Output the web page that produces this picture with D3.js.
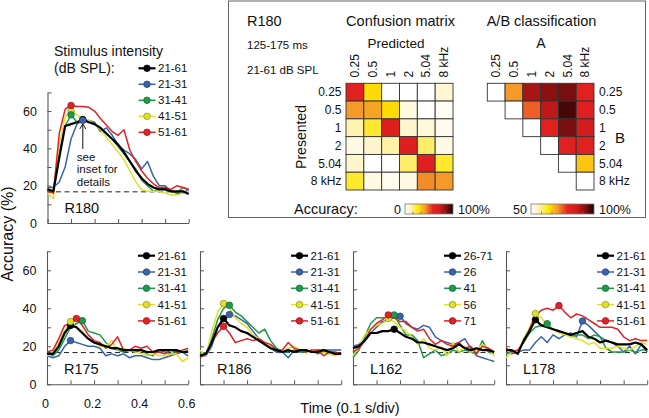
<!DOCTYPE html>
<html>
<head>
<meta charset="utf-8">
<script src="https://cdn.jsdelivr.net/npm/d3@7"></script>
<style>
  body { margin: 0; background: #fff; }
  svg { font-family: Arial, "Liberation Sans", sans-serif; }
</style>
</head>
<body>
<svg id="viz" width="649" height="418"></svg>
<script>
// sample times (s)
const times = [0, 0.025, 0.05, 0.075, 0.1, 0.125, 0.15, 0.175, 0.2, 0.225, 0.25, 0.275, 0.3,
               0.325, 0.35, 0.375, 0.4, 0.425, 0.45, 0.475, 0.5, 0.525, 0.55, 0.575, 0.6];
const xTicks = [0, 0.1, 0.2, 0.3, 0.4, 0.5, 0.6];
const yTicks = [0, 10, 20, 30, 40, 50, 60, 70];
const chance = 16.7;

const legendStd = ["21-61", "21-31", "31-41", "41-51", "51-61"];
const legendL162 = ["26-71", "26", "41", "56", "71"];
const seriesColors = ["#000000", "#3b62ac", "#1f9a4c", "#e0e02a", "#e02329"];

// accuracy (%) per series: [all, level1, level2, level3, level4]
const r180 = [
  [18, 17, 35, 52, 53, 54, 55.5, 54, 53, 51, 48, 45, 42, 38, 33, 28, 24, 21, 19, 18, 18, 17, 17, 17, 15.5],
  [19, 19, 22, 30, 45, 53, 55, 55, 54, 49, 51, 47, 42, 39, 37, 34, 29, 33, 25, 20, 20, 17, 16, 16, 18],
  [18, 17, 38, 52, 58, 54, 54, 55, 53, 51, 48, 45, 41, 37, 33, 29, 23, 20, 17, 18, 19, 17, 16, 19, 18],
  [16, 13, 42, 57, 60, 58, 56, 55, 53, 50, 46, 42, 38, 34, 28, 22, 18, 17, 17, 17, 16, 15, 15, 16, 17],
  [17, 16, 48, 61, 63, 62.5, 62.5, 62, 60, 56, 52.5, 49, 47, 50, 39, 33, 28, 24, 21, 19, 19, 18, 20, 19, 18]
];
const r175 = [
  [16, 16, 20, 27, 31, 30, 27, 24, 22, 21, 20, 19, 19, 18, 18, 18, 18, 17, 17, 18, 18, 18, 18, 17, 17],
  [15, 14, 15, 20, 23, 22, 21, 20, 20, 19, 15, 16, 15, 16, 14, 15, 15, 14, 13, 13, 14, 15, 16, 17, 15],
  [17, 15, 18, 24, 30, 32, 33.5, 28, 27, 26, 22, 19, 18, 17, 18, 17, 18, 16, 15, 18, 17, 16, 17, 17, 18],
  [15, 17, 22, 28, 33, 30, 28, 24, 22, 20, 20, 23, 18, 19, 18, 17, 16, 15, 16, 15, 15, 16, 16, 12, 14],
  [17, 18, 24, 31, 32, 34.6, 31, 26, 23, 22, 19, 21, 25, 18, 18, 20, 19, 20, 17, 17, 16, 18, 17, 18, 19]
];
const r186 = [
  [15, 16, 22, 30, 34.6, 31, 30, 28, 27, 25, 23, 21, 19, 18, 17, 18, 17, 18, 18, 17, 17, 18, 17, 16, 16],
  [15, 15, 20, 30, 34, 36.7, 36, 34, 32, 28, 24, 21, 19, 17, 17, 14, 18, 17, 18, 17, 18, 18, 18, 18, 18],
  [17, 16, 24, 34, 40, 41.6, 38, 36, 33, 30, 27, 29, 23, 19, 17, 17, 18, 17, 17, 18, 16, 17, 17, 16, 16],
  [18, 15, 28, 38, 42.5, 40, 35, 32, 30, 26, 24, 22, 20, 18, 17, 19, 20, 18, 17, 18, 17, 17, 16, 15, 16],
  [14, 16, 22, 27, 30.5, 27, 22, 23, 24, 23, 24, 22, 21, 18, 18, 22, 19, 18, 17, 18, 18, 15, 17, 17, 16]
];
const l162 = [
  [19, 20, 23, 27, 27, 28, 28, 29, 27, 25, 24, 22, 22, 21, 20, 19, 18, 19, 21, 19, 18, 19, 18, 18, 17],
  [20, 21, 24, 27, 30, 33, 34, 35, 35.8, 32, 30, 29, 31, 30, 25, 23, 22, 21, 22, 24, 19, 15, 14, 13, 12],
  [14, 18, 25, 32, 35, 35, 35, 36.5, 31, 26, 26, 23, 14, 16, 18, 15, 16, 18, 17, 18, 17, 16, 23, 17, 16],
  [15, 20, 26, 29, 31, 32, 34.6, 33, 30, 28, 25, 21, 24, 19, 18, 20, 15, 22, 17, 20, 17, 18, 21, 19, 15],
  [17, 19, 23, 29, 32, 34, 36.5, 35, 33, 33, 30, 28, 29, 24, 21, 23, 21, 20, 22, 19, 20, 16, 20, 19, 17]
];
const l178 = [
  [18, 18, 16, 23, 28, 34, 31, 30, 29, 28, 27, 26, 27, 28, 25, 24, 22, 23, 22, 21, 21, 21, 22, 21, 18],
  [17, 16, 17, 18, 18, 22, 25, 22, 26, 24, 26, 27, 25, 33.3, 31, 28, 25, 23, 22, 20, 17, 20, 16, 21, 17],
  [16, 17, 18, 22, 27, 30, 31, 31.9, 29, 28, 27, 25, 26, 26, 24, 26, 25, 19, 17, 17, 17, 18, 17, 18, 18],
  [14, 17, 17, 24, 30, 37.2, 35, 31, 29, 27, 26, 25, 24, 23, 21, 22, 19, 19, 19, 20, 19, 18, 20, 22, 21],
  [19, 17, 18, 22, 29, 36, 39, 40, 39, 41.4, 38, 35, 37, 36, 34, 32, 30, 30, 30, 29, 25, 23, 24, 23, 23]
];

// inset: confusion matrix (%) rows = presented, cols = predicted
const freqLabels = ["0.25", "0.5", "1", "2", "5.04", "8 kHz"];
const confusion = [
  [62, 30, 0, 0, 0, 8],
  [42, 40, 30, 6, 0, 2],
  [13, 24, 64, 9, 7, 3],
  [5, 9, 14, 64, 19, 5],
  [9, 0, 0, 19, 63, 24],
  [24, 5, 3, 5, 44, 42]
];
// A/B classification accuracy (%), upper triangle only
const abClass = [
  [null, 71, 90, 92.5, 94, 81],
  [null, null, 75, 88, 97, 81.5],
  [null, null, null, 81, 94, 86],
  [null, null, null, null, 81, 81],
  [null, null, null, null, null, 67],
  [null, null, null, null, null, null]
];

const svg = d3.select("#viz");

const cmap = d3.scaleLinear()
  .domain([0, 12, 28, 42, 58, 72, 88, 100])
  .range(["#ffffff", "#fff3bd", "#ffe600", "#f59a28", "#e62222", "#d41c1c", "#7a0e0e", "#140000"])
  .clamp(true);

const panels = [
  {name: "R180", data: r180, legend: legendStd, x0: 47.5, yb: 223, h: 130.6, yLab: true, xLab: false, legY: 68.3, step: 16},
  {name: "R175", data: r175, legend: legendStd, x0: 47, yb: 384.3, h: 133, yLab: true, xLab: true, legY: 255.7, step: 16.3},
  {name: "R186", data: r186, legend: legendStd, x0: 200, yb: 384.3, h: 133, yLab: false, xLab: false, legY: 255.7, step: 16.3},
  {name: "L162", data: l162, legend: legendL162, x0: 353, yb: 384.3, h: 133, yLab: false, xLab: false, legY: 255.7, step: 16.3},
  {name: "L178", data: l178, legend: legendStd, x0: 506, yb: 384.3, h: 133, yLab: false, xLab: false, legY: 255.7, step: 16.3}
];

const lineOrder = [1, 2, 3, 4, 0];
const markerOrder = [0, 1, 3, 2, 4];

function drawPanel(p) {
  const x = d3.scaleLinear().domain([0, 0.6]).range([p.x0, p.x0 + 141.2]);
  const y = d3.scaleLinear().domain([0, 70]).range([p.yb, p.yb - p.h]);
  const g = svg.append("g");

  g.append("line")
    .attr("x1", x(0)).attr("x2", x(0.6))
    .attr("y1", y(chance)).attr("y2", y(chance))
    .attr("stroke", "#222").attr("stroke-width", 1)
    .attr("stroke-dasharray", "5,3.5");

  const ya = g.append("g").attr("transform", `translate(${p.x0},0)`)
    .call(d3.axisLeft(y).tickValues(yTicks).tickSize(-4).tickSizeOuter(0).tickPadding(10.5)
      .tickFormat(d => p.yLab && d % 20 === 0 ? d : ""));
  const xa = g.append("g").attr("transform", `translate(0,${p.yb})`)
    .call(d3.axisBottom(x).tickValues(xTicks).tickSize(-4).tickSizeOuter(0).tickPadding(15)
      .tickFormat(d => p.xLab && Math.round(d * 10) % 2 === 0 ? (d === 0 ? "0" : d.toFixed(1)) : ""));
  [ya, xa].forEach(a => {
    a.attr("color", "#555");
    a.select(".domain").attr("stroke-width", 1.1);
    a.selectAll("text").attr("fill", "#111").style("font-size", "12.5px").attr("font-family", null);
  });
  xa.selectAll("text").attr("dx", -2);

  const line = d3.line().x((d, i) => x(times[i])).y(d => y(d));
  lineOrder.forEach(s => {
    g.append("path").datum(p.data[s])
      .attr("d", line)
      .attr("fill", "none")
      .attr("stroke", seriesColors[s])
      .attr("stroke-width", s === 0 ? 2.2 : 1.5)
      .attr("stroke-linejoin", "round");
  });
  markerOrder.forEach(s => {
    const k = d3.maxIndex(p.data[s]);
    g.append("circle")
      .attr("cx", x(times[k])).attr("cy", y(p.data[s][k])).attr("r", 3.3)
      .attr("fill", seriesColors[s])
      .attr("stroke", d3.color(seriesColors[s]).darker(1.2))
      .attr("stroke-width", 0.7);
  });

  g.append("text").attr("x", p.x0 + 17).attr("y", y(5.3))
    .style("font-size", "14.5px").attr("fill", "#111").text(p.name);

  p.legend.forEach((lab, i) => {
    const ly = p.legY + i * p.step;
    g.append("line").attr("x1", p.x0 + 91).attr("x2", p.x0 + 108).attr("y1", ly).attr("y2", ly)
      .attr("stroke", seriesColors[i]).attr("stroke-width", i === 0 ? 2.2 : 1.5);
    g.append("circle").attr("cx", p.x0 + 99.5).attr("cy", ly).attr("r", 3.3)
      .attr("fill", seriesColors[i])
      .attr("stroke", d3.color(seriesColors[i]).darker(1.2)).attr("stroke-width", 0.7);
    g.append("text").attr("x", p.x0 + 110.5).attr("y", ly).attr("dy", "0.36em")
      .style("font-size", "11.5px").attr("fill", "#111").text(lab);
  });
  return {x, y};
}

const scales = panels.map(drawPanel);

// annotation on R180
const s0 = scales[0];
const tipX = s0.x(0.15);
const tipY = s0.y(r180[0][6]) + 4.5;
svg.append("line").attr("x1", tipX).attr("x2", tipX).attr("y1", tipY).attr("y2", tipY + 25)
  .attr("stroke", "#111").attr("stroke-width", 1);
svg.append("path").attr("d", `M${tipX - 3},${tipY + 5} L${tipX},${tipY} L${tipX + 3},${tipY + 5}`)
  .attr("fill", "none").attr("stroke", "#111").attr("stroke-width", 1);
["see", "inset for", "details"].forEach((t, i) => {
  svg.append("text").attr("x", tipX - 6).attr("y", 161 + i * 12.3)
    .style("font-size", "11.5px").attr("fill", "#111").text(t);
});

svg.append("text").attr("x", 54).attr("y", 56).style("font-size", "14px").attr("fill", "#111").text("Stimulus intensity");
svg.append("text").attr("x", 54).attr("y", 72.7).style("font-size", "14px").attr("fill", "#111").text("(dB SPL):");

svg.append("text").attr("transform", "translate(13,234) rotate(-90)").attr("text-anchor", "middle")
  .style("font-size", "16px").attr("fill", "#111").text("Accuracy (%)");
svg.append("text").attr("x", 350).attr("y", 412.5).attr("text-anchor", "middle")
  .style("font-size", "14.5px").attr("fill", "#111").text("Time (0.1 s/div)");

// ---- inset ----
const inset = svg.append("g");
inset.append("rect").attr("x", 228.5).attr("y", 1).attr("width", 417).attr("height", 216.5)
  .attr("fill", "#fff").attr("stroke", "#666").attr("stroke-width", 1);

const txt = (x, y, s, size, anchor) => inset.append("text").attr("x", x).attr("y", y)
  .attr("text-anchor", anchor || "start").style("font-size", size + "px").attr("fill", "#111").text(s);

txt(247, 25.7, "R180", 14.5);
txt(247, 49, "125-175 ms", 11.5);
txt(247, 74, "21-61 dB SPL", 11.5);
txt(400.5, 25.7, "Confusion matrix", 14.5, "middle");
txt(541.5, 25.7, "A/B classification", 14.5, "middle");
txt(396, 48, "Predicted", 13.5, "middle");
txt(541, 48, "A", 14, "middle");
txt(620, 142.5, "B", 15, "middle");
inset.append("text").attr("transform", "translate(306,137) rotate(-90)").attr("text-anchor", "middle")
  .style("font-size", "14px").attr("fill", "#111").text("Presented");

const cx = d3.scaleBand().domain(freqLabels).range([346, 453]);
const cy = d3.scaleBand().domain(freqLabels).range([83.3, 190]);
const ax = d3.scaleBand().domain(freqLabels).range([487.3, 594]);

confusion.forEach((row, r) => row.forEach((v, c) => {
  inset.append("rect")
    .attr("x", cx(freqLabels[c])).attr("y", cy(freqLabels[r]))
    .attr("width", cx.bandwidth()).attr("height", cy.bandwidth())
    .attr("fill", cmap(v)).attr("stroke", "#333").attr("stroke-width", 0.9);
}));

abClass.forEach((row, r) => row.forEach((v, c) => {
  if (c < r) return;
  inset.append("rect")
    .attr("x", ax(freqLabels[c])).attr("y", cy(freqLabels[r]))
    .attr("width", ax.bandwidth()).attr("height", cy.bandwidth())
    .attr("fill", c === r ? "#fff" : cmap((v - 50) * 2))
    .attr("stroke", "#333").attr("stroke-width", 0.9);
}));

freqLabels.forEach(f => {
  [cx, ax].forEach(sc => {
    inset.append("text")
      .attr("transform", `translate(${sc(f) + sc.bandwidth() / 2},77.5) rotate(-90)`)
      .attr("dy", "0.35em").style("font-size", "12px").attr("fill", "#111").text(f);
  });
  inset.append("text").attr("x", 341.5).attr("y", cy(f) + cy.bandwidth() / 2).attr("dy", "0.35em")
    .attr("text-anchor", "end").style("font-size", "12px").attr("fill", "#111").text(f);
  inset.append("text").attr("x", 599).attr("y", cy(f) + cy.bandwidth() / 2).attr("dy", "0.35em")
    .style("font-size", "12px").attr("fill", "#111").text(f);
});

// colour bars
const grad = svg.append("defs").append("linearGradient").attr("id", "cbar");
cmap.domain().forEach((d, i) => {
  grad.append("stop").attr("offset", d + "%").attr("stop-color", cmap.range()[i]);
});
function colorBar(x0, w, lo) {
  inset.append("rect").attr("x", x0).attr("y", 204).attr("width", w).attr("height", 10)
    .attr("fill", "url(#cbar)").attr("stroke", "#777").attr("stroke-width", 0.8);
  for (let i = 1; i < 6; i++) {
    inset.append("line").attr("x1", x0 + w * i / 6).attr("x2", x0 + w * i / 6)
      .attr("y1", 214).attr("y2", 211.5).attr("stroke", "#666").attr("stroke-width", 0.7);
  }
  txt(x0 - 4, 213.5, lo, 12.5, "end");
  txt(x0 + w + 5, 213.5, "100%", 12.5);
}
txt(294, 214, "Accuracy:", 14.5);
colorBar(405, 48, "0");
colorBar(531, 63, "50");
</script>
</body>
</html>
